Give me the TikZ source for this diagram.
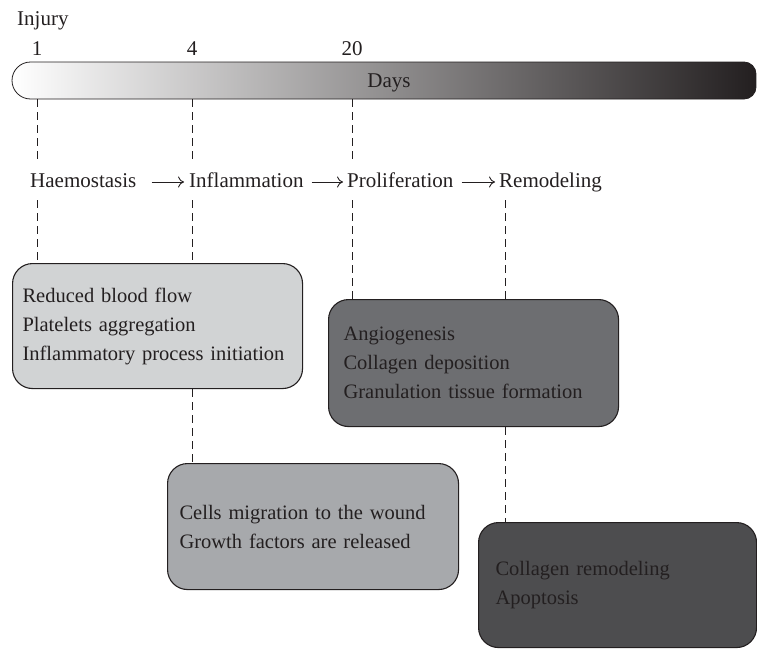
\documentclass[tikz,border=0pt]{standalone}
\usepackage{fontspec}
\setmainfont{Liberation Serif}
\usepackage{tikz}
\usetikzlibrary{arrows.meta}
\definecolor{ink}{HTML}{231F20}
\definecolor{boxA}{HTML}{D1D3D4}
\definecolor{boxB}{HTML}{A7A9AC}
\definecolor{boxC}{HTML}{6D6E71}
\definecolor{boxD}{HTML}{4D4D4F}

\begin{document}
\begin{tikzpicture}[x=1pt,y=1pt]
\tikzstyle{txt} = [font=\fontsize{21pt}{29pt}\selectfont, text=ink]
\tikzstyle{daylabel} = [txt, inner sep=0pt, anchor=base]
\tikzstyle{phaselabel} = [txt, inner xsep=0pt, inner ysep=8pt, text height=15pt, text depth=5pt, anchor=base west]
\tikzstyle{phasebox} = [txt, font=\fontsize{20.5pt}{29pt}\selectfont, draw=ink, line width=1.1pt, rounded corners=20pt, align=left, anchor=north west, inner xsep=13pt]
\tikzstyle{flow} = [draw=ink, line width=0.9pt, -{To[length=6pt,width=11pt]}, shorten <=15pt, shorten >=5pt]
\tikzstyle{guide} = [draw=ink, line width=0.9pt, dash pattern=on 8pt off 5pt]

\useasboundingbox (0,0) rectangle (757,-648);

%time bar
\draw[draw=ink, line width=0.8pt, left color=white, right color=ink]
  (30.5,-62) -- (744,-62) arc[start angle=90,end angle=0,radius=12] -- (756,-87)
  arc[start angle=0,end angle=-90,radius=12] -- (30.5,-99)
  arc[start angle=270,end angle=90,radius=18.5] -- cycle;
\coordinate (bar1) at (37,-99);
\coordinate (bar4) at (192,-99);
\coordinate (bar20) at (352,-99);
\coordinate (barR) at (505,-99);

%nodes
\node (injury) [daylabel, anchor=base west] at (17,-25) {Injury};
\node (one) [daylabel] at (37,-55) {1};
\node (four) [daylabel] at (192,-55) {4};
\node (twenty) [daylabel] at (352,-55) {20};
\node (days) [daylabel] at (389,-87) {Days};

\node (haem) [phaselabel] at (30,-187) {Haemostasis};
\node (infl) [phaselabel] at (189,-187) {Inflammation};
\node (prolif) [phaselabel] at (347,-187) {Proliferation};
\node (remod) [phaselabel] at (499,-187) {Remodeling};

\node (haembox) [phasebox, fill=boxA, minimum height=125pt, inner xsep=10pt, text width=270pt] at (12,-263)
  {Reduced blood flow\\Platelets aggregation\\Inflammatory process initiation};
\node (proliferbox) [phasebox, fill=boxC, minimum height=127pt, inner xsep=15pt, text width=260pt] at (328,-299)
  {Angiogenesis\\Collagen deposition\\Granulation tissue formation};
\node (inflbox) [phasebox, fill=boxB, minimum height=126pt, inner xsep=12pt, text width=267pt] at (167,-463)
  {Cells migration to the wound\\Growth factors are released};
\node (remodbox) [phasebox, fill=boxD, minimum height=125pt, inner xsep=17pt, text width=244pt] at (478,-522)
  {Collagen remodeling\\Apoptosis};

%arrows
\draw [flow] (haem) -- (infl);
\draw [flow, shorten <=8pt, shorten >=4pt] (infl) -- (prolif);
\draw [flow, shorten <=8pt, shorten >=4pt] (prolif) -- (remod);

%guides
\draw [guide] (bar1) -- (bar1 |- haem.north);
\draw [guide] (bar1 |- haem.south) -- (bar1 |- haembox.north);
\draw [guide] (bar4) -- (bar4 |- infl.north);
\draw [guide] (bar4 |- infl.south) -- (bar4 |- haembox.north);
\draw [guide] (bar4 |- haembox.south) -- (bar4 |- inflbox.north);
\draw [guide] (bar20) -- (bar20 |- prolif.north);
\draw [guide] (bar20 |- prolif.south) -- (bar20 |- proliferbox.north);
\draw [guide] (barR |- remod.south) -- (barR |- proliferbox.north);
\draw [guide] (barR |- proliferbox.south) -- (barR |- remodbox.north);
\end{tikzpicture}
\end{document}
